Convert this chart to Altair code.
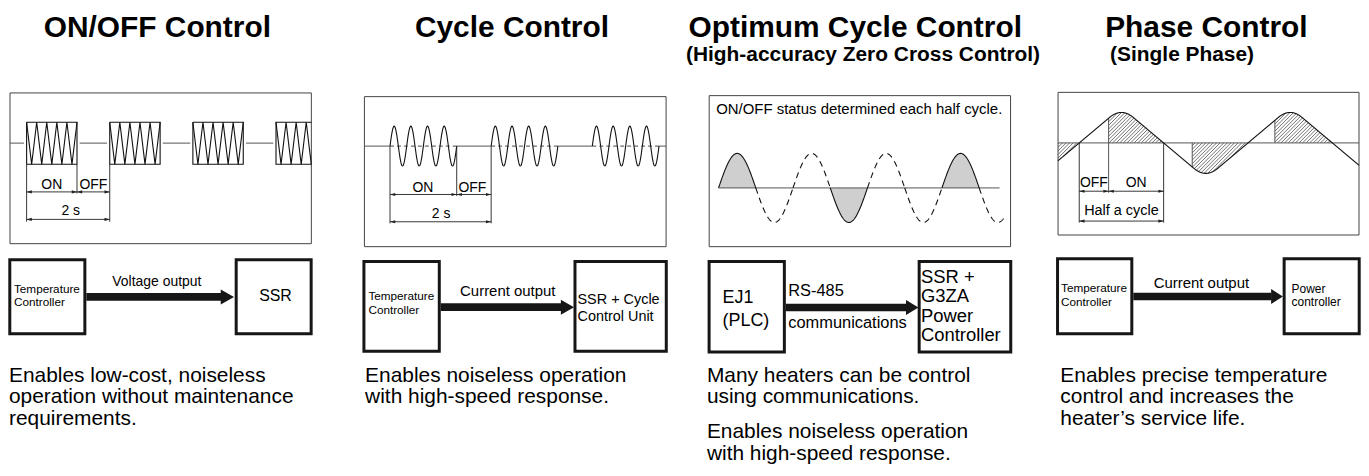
import altair as alt
import numpy as np
import pandas as pd

# ---------------------------------------------------------------- texts
titles = ["ON/OFF Control", "Cycle Control", "Optimum Cycle Control", "Phase Control"]
subtitles = ["", "", "(High-accuracy Zero Cross Control)", "(Single Phase)"]
descriptions = [
    ["Enables low-cost, noiseless", "operation without maintenance", "requirements."],
    ["Enables noiseless operation", "with high-speed response."],
    ["Many heaters can be control", "using communications.", None,
     "Enables noiseless operation", "with high-speed response."],
    ["Enables precise temperature", "control and increases the", "heater\u2019s service life."],
]
source_labels = [["Temperature", "Controller"], ["Temperature", "Controller"],
                 ["EJ1", "(PLC)"], ["Temperature", "Controller"]]
link_labels = [["Voltage output"], ["Current output"], ["RS-485", "communications"], ["Current output"]]
target_labels = [["SSR"], ["SSR + Cycle", "Control Unit"],
                 ["SSR +", "G3ZA", "Power", "Controller"], ["Power", "controller"]]
timing_labels = [["ON", "OFF", "2 s"], ["ON", "OFF", "2 s"], [], ["OFF", "ON", "Half a cycle"]]
note_text = ["ON/OFF status determined each half cycle."]

# ---------------------------------------------------------------- waveform parameters
P1_BOX = [10.0, 92.3, 312.7, 243.7]
P1_BASE, P1_TOP, P1_BOT = 142.7, 121.7, 164.0
P1_START, P1_PERIOD, P1_ON, P1_BURSTS, P1_TEETH, P1_GAP = 26.7, 83.5, 50.6, 4, 5, 2.7
P1_DIM = [191.7, 219.3]

P2_BOX = [366.0, 96.0, 669.0, 246.7]
P2_BASE, P2_AMP = 145.7, 20.0
P2_START, P2_PERIOD, P2_CYCLE, P2_CYCLES, P2_BURSTS = 391.7, 101.6, 16.75, 4, 3
P2_DIM = [194.3, 221.7]

P3_BOX = [712.3, 95.0, 1015.0, 246.7]
P3_BASE, P3_AMP = 187.7, 34.7
P3_START, P3_HALF, P3_END, P3_BASE_END = 721.7, 37.4, 1008.0, 1004.0
P3_ON_HALVES = [0, 3, 6]

P4_BOX = [1062.7, 91.7, 1365.0, 235.0]
P4_BASE, P4_PEAK, P4_SLOPE = 142.5, 30.6, 0.84
P4_CROSS0, P4_HALF = 1084.0, 84.75
P4_FIRE = [1113.5, 1197.5, 1280.5]
P4_HATCH = 3.6
P4_DIM = [191.0, 221.0]

# ---------------------------------------------------------------- block diagrams
BLOCK_SRC = [[9.8, 259.8, 85.2, 334.2], [365.5, 261.5, 441.2, 351.8],
             [712.2, 261.5, 787.8, 352.5], [1062.2, 258.8, 1136.8, 334.2]]
BLOCK_DST = [[237.2, 259.8, 312.5, 334.2], [577.5, 261.5, 669.2, 351.8],
             [923.2, 261.5, 1015.2, 352.5], [1289.8, 258.8, 1365.2, 334.2]]
SHAFT_Y = [297.2, 307.5, 307.8, 296.8]
HEAD_X = [[221.7, 235.0], [563.3, 576.5], [910.0, 922.5], [1276.7, 1288.5]]
SHAFT_T, HEAD_H = 7.7, 15.0

# ---------------------------------------------------------------- canvas
FONT = "Liberation Sans"
CW, CH, ORIGIN = 1359, 460, 8
XS = alt.Scale(domain=[ORIGIN, ORIGIN + CW], nice=False, zero=False)
YS = alt.Scale(domain=[ORIGIN, ORIGIN + CH], nice=False, zero=False, reverse=True)


def X(f="x"):
    return alt.X(f"{f}:Q", scale=XS, axis=None)


def Y(f="y"):
    return alt.Y(f"{f}:Q", scale=YS, axis=None)


def X2(f="x2"):
    return alt.X2(f"{f}:Q")


def Y2(f="y2"):
    return alt.Y2(f"{f}:Q")


seg_id = [0]
poly_rows = {k: [] for k in ("wave", "dash_long", "dash_short")}
area_rows = []
rule_rows = {k: [] for k in ("dim", "hatch", "wave")}
head_l, head_r = [], []
thin_boxes, thick_boxes, shafts, heads = [], [], [], []
text_rows = {("center", "normal"): [], ("left", "normal"): [],
             ("center", "bold"): [], ("left", "bold"): []}


def add_poly(style, xs_, ys_):
    sid = seg_id[0]
    seg_id[0] += 1
    for i, (a, b) in enumerate(zip(xs_, ys_)):
        poly_rows[style].append({"x": float(a), "y": float(b), "seg": sid, "ord": i})


def add_area(xs_, ys_, base):
    sid = seg_id[0]
    seg_id[0] += 1
    for a, b in zip(xs_, ys_):
        area_rows.append({"x": float(a), "y": float(b), "y2": float(base), "seg": sid})


def add_rule(style, x1, y1, x2, y2):
    rule_rows[style].append(dict(x=float(x1), y=float(y1), x2=float(x2), y2=float(y2)))


def dim_arrow(xa, xb, y):
    add_rule("dim", xa, y, xb, y)
    head_l.append(dict(x=xa, y=y))
    head_r.append(dict(x=xb, y=y))


def add_text(t, x, y, fs, align="left", weight="normal"):
    text_rows[(align, weight)].append(dict(x=x, y=y, t=t, fs=fs))


def clip_poly(xs_, ys_, xmax):
    ox, oy = [xs_[0]], [ys_[0]]
    for i in range(1, len(xs_)):
        if xs_[i] <= xmax:
            ox.append(xs_[i]); oy.append(ys_[i])
        else:
            f = (xmax - xs_[i - 1]) / (xs_[i] - xs_[i - 1])
            ox.append(xmax); oy.append(ys_[i - 1] + f * (ys_[i] - ys_[i - 1]))
            break
    return ox, oy


for b in (P1_BOX, P2_BOX, P3_BOX, P4_BOX):
    thin_boxes.append(dict(x=b[0], y=b[1], x2=b[2], y2=b[3]))

# ---------------- panel 1 : ON/OFF
right = P1_BOX[2]
starts = [P1_START + k * P1_PERIOD for k in range(P1_BURSTS)]
for x0 in starts:
    x1 = x0 + P1_ON
    if x1 <= right:
        add_poly("wave", [x0, x1, x1, x0, x0], [P1_TOP, P1_TOP, P1_BOT, P1_BOT, P1_TOP])
    else:
        add_poly("wave", [right, x0, x0, right], [P1_TOP, P1_TOP, P1_BOT, P1_BOT])
    n = 2 * P1_TEETH
    zx = [x0 + i * P1_ON / n for i in range(n + 1)]
    zy = [P1_TOP if i % 2 == 0 else P1_BOT for i in range(n + 1)]
    zx, zy = clip_poly(zx, zy, right)
    add_poly("wave", zx, zy)
prev = None
for s in starts:
    a = P1_BOX[0] if prev is None else prev + P1_GAP
    add_rule("wave", a, P1_BASE, s - P1_GAP, P1_BASE)
    prev = s + P1_ON
x0 = starts[0]
add_rule("dim", x0, P1_BOT, x0, P1_DIM[1] + 2.4)
add_rule("dim", x0 + P1_ON, P1_BOT, x0 + P1_ON, P1_DIM[0] + 1.5)
add_rule("dim", x0 + P1_PERIOD, P1_BOT, x0 + P1_PERIOD, P1_DIM[1] + 2.4)
dim_arrow(x0, x0 + P1_ON, P1_DIM[0])
dim_arrow(x0 + P1_ON, x0 + P1_PERIOD, P1_DIM[0])
dim_arrow(x0, x0 + P1_PERIOD, P1_DIM[1])
lab = timing_labels[0]
add_text(lab[0], x0 + P1_ON / 2, P1_DIM[0] - 3.4, 14, "center")
add_text(lab[1], x0 + (P1_ON + P1_PERIOD) / 2, P1_DIM[0] - 3.4, 14, "center")
add_text(lab[2], x0 + P1_PERIOD / 2 + 2.5, P1_DIM[1] - 4.3, 14, "center")

# ---------------- panel 2 : cycle
L2 = P2_CYCLES * P2_CYCLE
s2 = [P2_START + k * P2_PERIOD for k in range(P2_BURSTS)]
for x0 in s2:
    t = np.linspace(0, L2, 241)
    add_poly("wave", x0 + t, P2_BASE - P2_AMP * np.sin(2 * np.pi * t / P2_CYCLE))
    add_poly("dash_short", [x0, x0 + L2], [P2_BASE, P2_BASE])
edges = [P2_BOX[0]] + [v for x0 in s2 for v in (x0, x0 + L2)] + [P2_BOX[2]]
for a, b in zip(edges[0::2], edges[1::2]):
    add_rule("wave", a, P2_BASE, b, P2_BASE)
x0 = s2[0]
add_rule("dim", x0, P2_BASE, x0, P2_DIM[1] + 1.6)
add_rule("dim", x0 + L2, P2_BASE, x0 + L2, P2_DIM[0] + 1.5)
add_rule("dim", x0 + P2_PERIOD, P2_BASE, x0 + P2_PERIOD, P2_DIM[1] + 1.6)
dim_arrow(x0, x0 + L2, P2_DIM[0])
dim_arrow(x0 + L2, x0 + P2_PERIOD, P2_DIM[0])
dim_arrow(x0, x0 + P2_PERIOD, P2_DIM[1])
lab = timing_labels[1]
add_text(lab[0], x0 + L2 / 2 - 0.5, P2_DIM[0] - 2.8, 14, "center")
add_text(lab[1], x0 + (L2 + P2_PERIOD) / 2 - 1.5, P2_DIM[0] - 2.8, 14, "center")
add_text(lab[2], x0 + P2_PERIOD / 2 + 0.5, P2_DIM[1] - 3.4, 14, "center")

# ---------------- panel 3 : optimum cycle
nh = int(np.ceil((P3_END - P3_START) / P3_HALF))
for k in range(nh):
    a = P3_START + k * P3_HALF
    b = min(a + P3_HALF, P3_END)
    xx = np.linspace(a, b, 80)
    yy = P3_BASE - P3_AMP * np.sin(np.pi * (xx - P3_START) / P3_HALF)
    if k in P3_ON_HALVES:
        add_area(xx, yy, P3_BASE)
        add_poly("wave", xx, yy)
    else:
        add_poly("dash_long", xx, yy)
add_rule("wave", P3_START, P3_BASE, P3_BASE_END, P3_BASE)
add_text(note_text[0], P3_BOX[0] + 7, 113.0, 15, "left")


# ---------------- panel 4 : phase
def wave4(x):
    x = np.asarray(x, dtype=float)
    d0 = x - P4_CROSS0
    k = np.floor(d0 / P4_HALF)
    d = d0 - k * P4_HALF
    sign = np.where(np.mod(k, 2) == 0, 1.0, -1.0)
    q = P4_HALF / 2
    w = 2 * (P4_SLOPE * q - P4_PEAK) / P4_SLOPE
    c = P4_SLOPE / (2 * w)
    u = np.abs(d - q)
    mag = np.where(u < w, P4_PEAK - c * u ** 2, P4_SLOPE * np.minimum(d, P4_HALF - d))
    return P4_BASE - sign * mag


xw = np.arange(P4_BOX[0], P4_BOX[2] + 0.01, 0.25)
add_poly("wave", xw, wave4(xw))
add_rule("wave", P4_BOX[0], P4_BASE, P4_BOX[2], P4_BASE)
cross = [P4_CROSS0 + k * P4_HALF for k in range(4)]
regions = [(P4_BOX[0], cross[0])] + [(P4_FIRE[i], cross[i + 1]) for i in range(3)]
for xa, xb in regions:
    xs_ = np.arange(xa, xb, 0.05)
    wv = wave4(xs_)
    lo = np.minimum(wv, P4_BASE)
    hi = np.maximum(wv, P4_BASE)
    cmin = xa + lo.min()
    cmax = xb + hi.max()
    for cc in np.arange(np.floor(cmin / P4_HATCH) * P4_HATCH, cmax, P4_HATCH):
        yl = cc - xs_
        idx = np.flatnonzero((yl >= lo) & (yl <= hi))
        if idx.size < 2:
            continue
        br = np.flatnonzero(np.diff(idx) > 1)
        st = np.r_[idx[0], idx[br + 1]]
        en = np.r_[idx[br], idx[-1]]
        for s, e in zip(st, en):
            if e > s:
                add_rule("hatch", xs_[s], yl[s], xs_[e], yl[e])
f0, f1, f2 = P4_FIRE
add_rule("wave", f0, float(wave4(f0)), f0, P4_DIM[0] + 1.5)
add_rule("wave", f1, P4_BASE, f1, float(wave4(f1)))
add_rule("wave", f2, float(wave4(f2)), f2, P4_BASE)
add_rule("dim", cross[0], P4_BASE, cross[0], P4_DIM[1] + 1.5)
add_rule("dim", cross[1], P4_BASE, cross[1], P4_DIM[1] + 1.5)
dim_arrow(cross[0], f0, P4_DIM[0])
dim_arrow(f0, cross[1], P4_DIM[0])
dim_arrow(cross[0], cross[1], P4_DIM[1])
lab = timing_labels[3]
add_text(lab[0], (cross[0] + f0) / 2, P4_DIM[0] - 4.3, 14, "center")
add_text(lab[1], (f0 + cross[1]) / 2, P4_DIM[0] - 4.3, 14, "center")
add_text(lab[2], (cross[0] + cross[1]) / 2, P4_DIM[1] - 6.0, 14.5, "center")

# ---------------- blocks
for i in range(4):
    sb, db = BLOCK_SRC[i], BLOCK_DST[i]
    thick_boxes.append(dict(x=sb[0], y=sb[1], x2=sb[2], y2=sb[3]))
    thick_boxes.append(dict(x=db[0], y=db[1], x2=db[2], y2=db[3]))
    cy = SHAFT_Y[i]
    shafts.append(dict(x=sb[2] + 1.5, x2=HEAD_X[i][0] + 0.5, y=cy - SHAFT_T / 2, y2=cy + SHAFT_T / 2))
    heads.append(dict(x=HEAD_X[i][0], y=cy - HEAD_H / 2, y2=cy + HEAD_H / 2, seg=i))
    heads.append(dict(x=HEAD_X[i][1], y=cy, y2=cy, seg=i))

# block texts: (x, first baseline, spacing, font size, align)
SRC_TXT = [(14.0, 293.3, 13.4, 11.8), (370.0, 300.0, 14.5, 11.8), (725.7, 303.3, 22.7, 18.0), (1065.7, 292.7, 14.0, 11.8)]
LINK_TXT = [(157.5, 286.7, 0, 14.0, "center"), (510.0, 296.7, 0, 15.0, "center"),
            (791.7, 296.7, 31.6, 16.5, "left"), (1206.7, 288.3, 0, 15.0, "center")]
DST_TXT = [(276.7, 301.7, 0, 16.0, "center"), (580.0, 304.0, 17.7, 14.5, "left"),
           (925.0, 283.5, 19.2, 18.5, "left"), (1297.3, 293.3, 13.4, 12.0, "left")]
for i in range(4):
    x, y, sp, fs = SRC_TXT[i]
    for j, t in enumerate(source_labels[i]):
        add_text(t, x, y + j * sp, fs, "left")
    x, y, sp, fs, al = LINK_TXT[i]
    for j, t in enumerate(link_labels[i]):
        add_text(t, x, y + j * sp, fs, al)
    x, y, sp, fs, al = DST_TXT[i]
    for j, t in enumerate(target_labels[i]):
        add_text(t, x, y + j * sp, fs, al)

# titles & descriptions
TITLE_X = [158.0, 514.2, 859.0, 1211.7]
SUB_X = [0, 0, 689.0, 1115.0]
DESC_X = [9.0, 366.7, 710.0, 1065.0]
for i in range(4):
    add_text(titles[i], TITLE_X[i], 36.5, 30, "center", "bold")
    if subtitles[i]:
        add_text(subtitles[i], SUB_X[i], 60.5, 21, "left", "bold")
    y = 382.5
    for line in descriptions[i]:
        if line is None:
            y += 13.4
            continue
        add_text(line, DESC_X[i], y, 21, "left")
        y += 21.6

# ---------------------------------------------------------------- layers
INK = "#111111"
layers = []
layers.append(alt.Chart(pd.DataFrame(thin_boxes)).mark_rect(
    fill="white", stroke="#444444", strokeWidth=1).encode(x=X(), y=Y(), x2=X2(), y2=Y2()))
layers.append(alt.Chart(pd.DataFrame(area_rows)).mark_area(
    color="#cfcfcf").encode(x=X(), y=Y(), y2=Y2(), detail="seg:N"))
layers.append(alt.Chart(pd.DataFrame(rule_rows["hatch"])).mark_rule(
    color="#333333", strokeWidth=0.7).encode(x=X(), y=Y(), x2=X2(), y2=Y2()))
layers.append(alt.Chart(pd.DataFrame(rule_rows["wave"])).mark_rule(
    color="#555555", strokeWidth=1).encode(x=X(), y=Y(), x2=X2(), y2=Y2()))
layers.append(alt.Chart(pd.DataFrame(poly_rows["wave"])).mark_line(
    color=INK, strokeWidth=1.1).encode(x=X(), y=Y(), detail="seg:N", order="ord:Q"))
layers.append(alt.Chart(pd.DataFrame(poly_rows["dash_long"])).mark_line(
    color=INK, strokeWidth=1.1, strokeDash=[6, 4.5]).encode(x=X(), y=Y(), detail="seg:N", order="ord:Q"))
layers.append(alt.Chart(pd.DataFrame(poly_rows["dash_short"])).mark_line(
    color="#333333", strokeWidth=0.9, strokeDash=[4, 3]).encode(x=X(), y=Y(), detail="seg:N", order="ord:Q"))
layers.append(alt.Chart(pd.DataFrame(rule_rows["dim"])).mark_rule(
    color="#222222", strokeWidth=0.9).encode(x=X(), y=Y(), x2=X2(), y2=Y2()))
layers.append(alt.Chart(pd.DataFrame(head_r)).mark_point(
    shape="M0,0L-1,-0.3L-1,0.3Z", filled=True, size=110, color="#222222", opacity=1).encode(x=X(), y=Y()))
layers.append(alt.Chart(pd.DataFrame(head_l)).mark_point(
    shape="M0,0L1,-0.3L1,0.3Z", filled=True, size=110, color="#222222", opacity=1).encode(x=X(), y=Y()))
layers.append(alt.Chart(pd.DataFrame(thick_boxes)).mark_rect(
    fill="white", stroke="#161616", strokeWidth=3).encode(x=X(), y=Y(), x2=X2(), y2=Y2()))
layers.append(alt.Chart(pd.DataFrame(shafts)).mark_rect(
    color="#161616").encode(x=X(), y=Y(), x2=X2(), y2=Y2()))
layers.append(alt.Chart(pd.DataFrame(heads)).mark_area(
    color="#161616").encode(x=X(), y=Y(), y2=Y2(), detail="seg:N"))
for (align, weight), rows in text_rows.items():
    if not rows:
        continue
    layers.append(alt.Chart(pd.DataFrame(rows)).mark_text(
        align=align, baseline="alphabetic", font=FONT, fontWeight=weight, color="#000000"
    ).encode(x=X(), y=Y(), text="t:N", size=alt.Size("fs:Q", scale=None)))

chart = alt.layer(*layers).properties(
    width=CW, height=CH, padding=0,
    autosize=alt.AutoSizeParams(type="none"), background="white",
).configure_view(stroke=None)

chart.save("out.html", embed_options={"renderer": "svg", "actions": False})
